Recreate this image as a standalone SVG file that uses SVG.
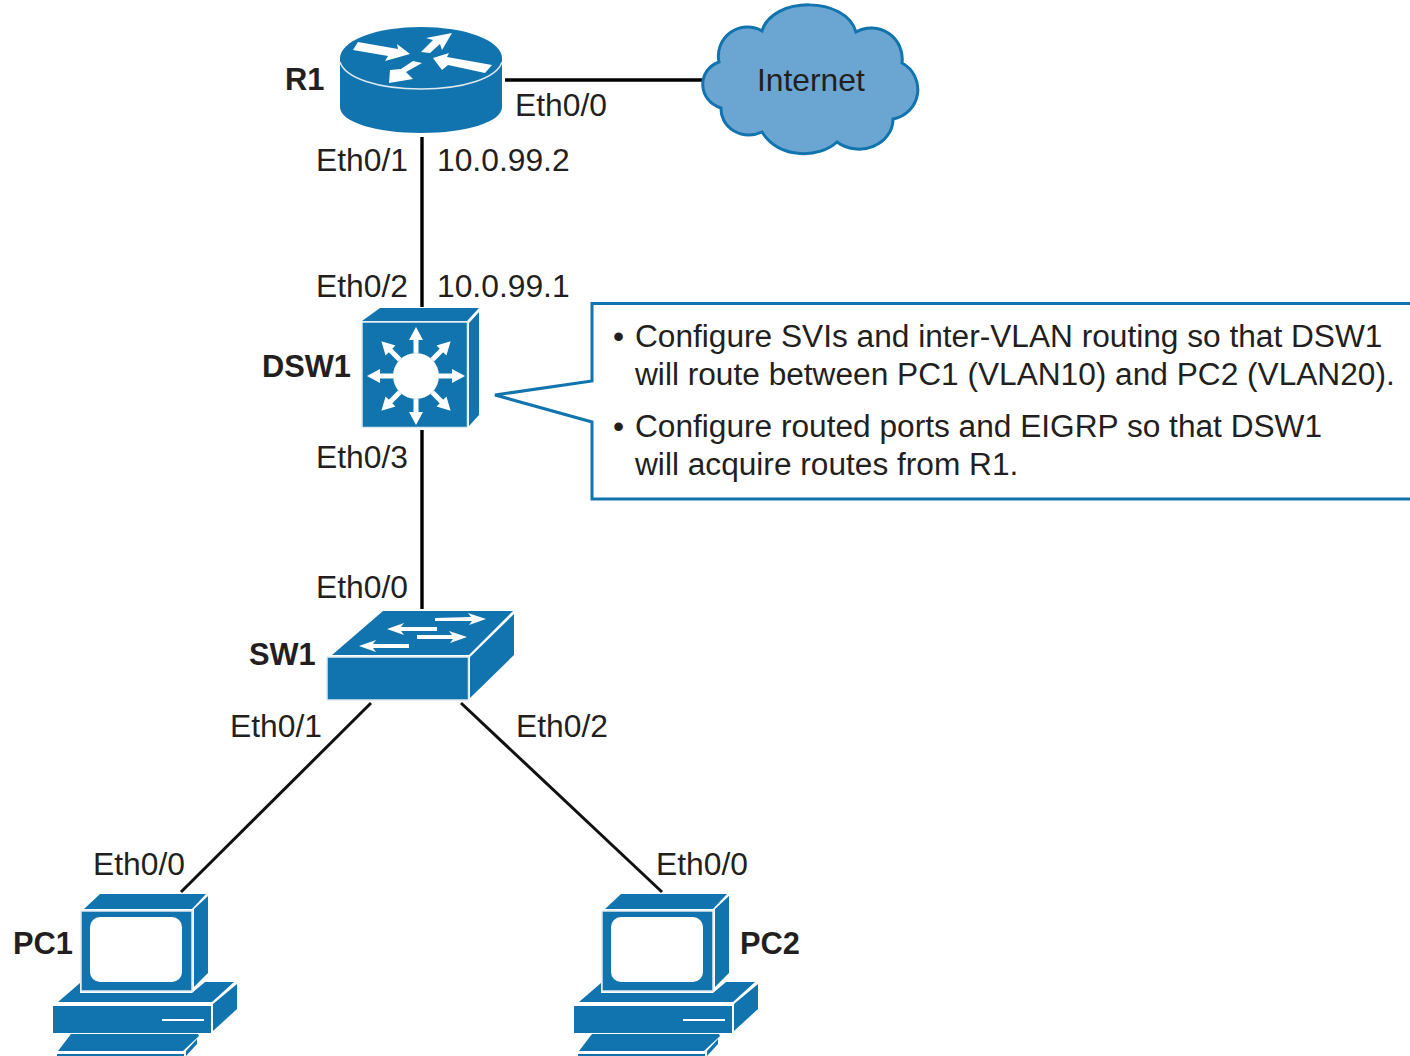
<svg xmlns="http://www.w3.org/2000/svg" xmlns:xlink="http://www.w3.org/1999/xlink" width="1410" height="1056" viewBox="0 0 1410 1056">
<style>
text{font-family:"Liberation Sans",Arial,sans-serif;font-size:31.8px;fill:#231f20}
.b{font-weight:bold;font-size:30.8px}
.c{font-size:31.65px}
.i{fill:#1174ae}
.w{fill:#fff}
.s{fill:#1174ae;stroke:#dfe9f1;stroke-width:1.5}
.l{stroke:#000;stroke-width:3.4;fill:none}
.d{stroke:#111;stroke-width:3;fill:none}
</style>
<defs>
<g id="a8"><rect class="w" x="-2.5" y="-37" width="5" height="14"/><polygon class="w" points="-7,-36 0,-49 7,-36"/></g>
<g id="pc">
<polygon class="i" points="84,909 100,894 206,894 192,909"/>
<rect class="s" x="81" y="911" width="111" height="80"/>
<polygon class="i" points="194,909 208,896 208,973 194,987"/>
<rect class="w" x="90" y="917" width="92" height="65" rx="10"/>
<polygon class="i" points="58,1002 80,983 80,993 192,993 205,982 234,982 212,1002"/>
<rect class="i" x="53" y="1006" width="158" height="27"/>
<polygon class="i" points="213,1004 237,984 237,1009 213,1031"/>
<rect class="w" x="162" y="1019" width="42" height="2"/>
<polygon class="i" points="71,1034 198,1034 199,1036 183,1051 58,1051"/>
<polygon class="i" points="186,1051 197,1039 197,1044 186,1056"/>
<rect class="i" x="57" y="1054" width="127" height="2"/>
</g>
</defs>
<g id="connectors">
<line class="l" x1="505" y1="80" x2="704" y2="80"/>
<line class="l" x1="422" y1="137" x2="422" y2="307"/>
<line class="l" x1="422" y1="430" x2="422" y2="609"/>
<line class="d" x1="371" y1="703" x2="181" y2="892"/>
<line class="d" x1="461" y1="703" x2="662" y2="892"/>
</g>
<g id="R1">
<path class="i" d="M340,58V107C340,122 376,133 421,133S502,122 502,107V58Z"/>
<ellipse class="i" cx="421" cy="58" rx="81" ry="31"/>
<path d="M340,62C345,78 378,89 421,89S497,78 502,62" fill="none" stroke="#dfe9f1" stroke-width="1.5"/>
<polygon class="w" points="358,42 398,49 397,44 410,54 385,61 388,56 353,50"/>
<polygon class="w" points="421,52 433,40 426,38 452,33 442,50 440,44 430,53"/>
<polygon class="w" points="422,63 413,61 401,69 390,70 389,83 413,79 406,72"/>
<polygon class="w" points="433,58 449,53 447,57 492,65 485,73 448,65 442,70"/>
<text class="b" x="285" y="90">R1</text>
<text x="515" y="116">Eth0/0</text>
<text x="316" y="171">Eth0/1</text>
<text x="437" y="171">10.0.99.2</text>
</g>
<g id="Internet">
<path d="M719,62A29,29 0 0 1 762,31C772,-4 846,-4 856,32A31,31 0 0 1 902,63A30,30 0 0 1 893,119A34,30 0 0 1 837,142C820,158 780,160 762,132A28,26 0 0 1 721,108C697,100 697,70 719,62Z" fill="#6ba5d2" stroke="#1174ae" stroke-width="3"/>
<text x="757" y="91">Internet</text>
</g>
<g id="DSW1">
<polygon class="i" points="362,321 380,308 479,308 467,321"/>
<rect class="s" x="362" y="322" width="105.500" height="105.500"/>
<polygon class="i" points="469,323 479,312 479,415 469,426"/>
<circle class="w" cx="416" cy="376" r="23"/>
<use xlink:href="#a8" href="#a8" transform="translate(416,376)"/>
<use xlink:href="#a8" href="#a8" transform="translate(416,376) rotate(45)"/>
<use xlink:href="#a8" href="#a8" transform="translate(416,376) rotate(90)"/>
<use xlink:href="#a8" href="#a8" transform="translate(416,376) rotate(135)"/>
<use xlink:href="#a8" href="#a8" transform="translate(416,376) rotate(180)"/>
<use xlink:href="#a8" href="#a8" transform="translate(416,376) rotate(225)"/>
<use xlink:href="#a8" href="#a8" transform="translate(416,376) rotate(270)"/>
<use xlink:href="#a8" href="#a8" transform="translate(416,376) rotate(315)"/>
<text class="b" x="262" y="377">DSW1</text>
<text x="316" y="297">Eth0/2</text>
<text x="437" y="297">10.0.99.1</text>
<text x="316" y="468">Eth0/3</text>
</g>
<g id="callout">
<path d="M1410,303.500H592V381L495,395L592,422V499H1410" fill="#fff" stroke="#1174ae" stroke-width="3"/>
<text class="c" x="613" y="347">•<tspan x="635">Configure SVIs and inter-VLAN routing so that DSW1</tspan></text>
<text class="c" x="635" y="385">will route between PC1 (VLAN10) and PC2 (VLAN20).</text>
<text class="c" x="613" y="437">•<tspan x="635">Configure routed ports and EIGRP so that DSW1</tspan></text>
<text class="c" x="635" y="475">will acquire routes from R1.</text>
</g>
<g id="SW1">
<polygon class="i" points="332,655 383,611 513,611 469,655"/>
<rect class="s" x="327" y="657" width="141.500" height="43"/>
<polygon class="i" points="470,657 514,614 514,655 470,698"/>
<polygon class="w" points="435,618 471,617 468,613 486,619 469,625 472,621 435,621"/>
<polygon class="w" points="437,627 401,627 404,623 387,629 404,635 401,631 437,631"/>
<polygon class="w" points="417,635 452,635 449,631 467,637 450,643 453,639 417,639"/>
<polygon class="w" points="409,644 373,644 376,640 359,646 376,652 373,648 409,648"/>
<text class="b" x="249" y="665">SW1</text>
<text x="316" y="598">Eth0/0</text>
<text x="230" y="737">Eth0/1</text>
<text x="516" y="737">Eth0/2</text>
</g>
<g id="PC1">
<use xlink:href="#pc" href="#pc"/>
<text class="b" x="13" y="954">PC1</text>
<text x="93" y="875">Eth0/0</text>
</g>
<g id="PC2">
<use xlink:href="#pc" href="#pc" transform="translate(521,0)"/>
<text class="b" x="740" y="954">PC2</text>
<text x="656" y="875">Eth0/0</text>
</g>
</svg>
